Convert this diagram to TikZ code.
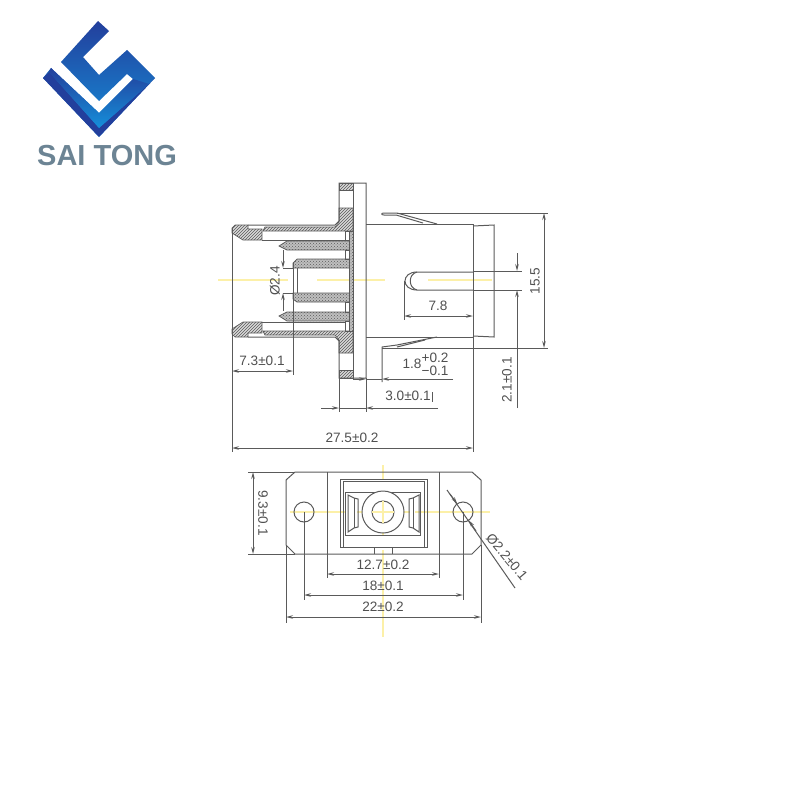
\documentclass[tikz,border=0pt]{standalone}
\usepackage{fontspec}
\setmainfont{Liberation Sans}
\usetikzlibrary{patterns,arrows.meta}
\definecolor{linegray}{HTML}{5A5A5A}
\definecolor{textgray}{HTML}{505050}
\definecolor{axisyellow}{HTML}{FCF0A8}
\definecolor{logodark}{HTML}{233F9C}
\definecolor{logomid}{HTML}{1A6FC4}
\definecolor{logolight}{HTML}{1590DA}
\definecolor{logotext}{HTML}{6C8494}
\tikzset{
  part/.style={draw=linegray,line width=1pt},
  hatched/.style={draw=linegray,line width=0.7pt,preaction={fill=gray!30},pattern=north east lines,pattern color=linegray},
  stippled/.style={draw=linegray,line width=0.7pt,preaction={fill=gray!50},pattern=crosshatch dots,pattern color=linegray},
  dimline/.style={draw=linegray,line width=1pt,-{Stealth[length=7pt,width=3.5pt]}},
  dimboth/.style={draw=linegray,line width=1pt,{Stealth[length=7pt,width=3.5pt]}-{Stealth[length=7pt,width=3.5pt]}},
  axisline/.style={draw=axisyellow,line width=2pt},
  dimtext/.style={text=textgray,font=\fontsize{13.6}{14}\selectfont,inner sep=0pt}
}

\begin{document}
\begin{tikzpicture}[x=1pt,y=-1pt]
  \useasboundingbox (0,0) rectangle (800,800);

  % Mittellinien
  \draw[axisline] (218,280) -- (288,280);
  \draw[axisline] (317,280) -- (385,280);
  \draw[axisline] (428,280) -- (492,280);
  \draw[axisline] (290,512) -- (345,512);
  \draw[axisline] (357,512) -- (410,512);
  \draw[axisline] (415,512) -- (490,512);
  \draw[axisline] (383,465) -- (383,480);
  \draw[axisline] (383,495) -- (383,535);
  \draw[axisline] (383,550) -- (383,637);

  % Logo
  \coordinate (l0) at (98,21);
  \coordinate (l1) at (61,62);
  \coordinate (l2) at (99,101);
  \coordinate (l3) at (127,74);
  \coordinate (l4) at (133,79);
  \coordinate (l5) at (99,113);
  \coordinate (l6) at (51,68);
  \coordinate (l7) at (43,78);
  \coordinate (l8) at (99,137);
  \coordinate (l9) at (155,78);
  \coordinate (l10) at (127,50);
  \coordinate (l11) at (99,75);
  \coordinate (l12) at (83,57);
  \coordinate (l13) at (109,31);
  \shade[top color=logodark,bottom color=logolight]
    (l0) -- (l1) -- (l2) -- (l3) -- (l4) -- (l5) -- (l6) -- (l7) -- (l8) -- (l9) -- (l10) -- (l11) -- (l12) -- (l13) -- cycle;
  \fill[logodark] (l7) -- (l8) -- (l9) -- (149,84) -- (99,128) -- (49,72) -- cycle;
  \shade[top color=logodark,bottom color=logolight]
    (l6) -- (l5) -- (l4) -- (149,84) -- (99,128) -- (49,72) -- cycle;
  \node[text=logotext,font=\fontsize{29}{29}\selectfont\bfseries,inner sep=0pt] (brand) at (107,156) {SAI TONG};

  % Koerper links, obere Haelfte
  \filldraw[hatched] (232,228) -- (235,225) -- (248,225) -- (248,229) -- (262,229) -- (262,240) -- (243,240) -- (232,233) -- cycle;
  \filldraw[hatched] (263,231) -- (265,227) -- (335,227) -- (339,222) -- (339,208) -- (353,208) -- (353,231) -- cycle;
  \filldraw[hatched] (339,183) rectangle (353,190);
  \filldraw[stippled] (279,246) -- (287,241) -- (353,241) -- (353,250) -- (287,250) -- cycle;
  \filldraw[stippled] (293,268) -- (293,263) -- (297,259) -- (353,259) -- (353,268) -- cycle;

  % Koerper links, untere Haelfte
  \filldraw[hatched] (232,334) -- (235,337) -- (248,337) -- (248,333) -- (262,333) -- (262,322) -- (243,322) -- (232,329) -- cycle;
  \filldraw[hatched] (263,331) -- (265,335) -- (335,335) -- (339,340) -- (339,353) -- (353,353) -- (353,331) -- cycle;
  \filldraw[hatched] (339,370) rectangle (353,378);
  \filldraw[stippled] (279,316) -- (287,312) -- (353,312) -- (353,321) -- (287,321) -- cycle;
  \filldraw[stippled] (293,293) -- (353,293) -- (353,302) -- (297,302) -- (293,299) -- cycle;

  % Stege hinter dem Flansch
  \filldraw[stippled] (349,231) rectangle (353,331);
  \draw[part] (345,231) rectangle (349,240);
  \draw[part] (345,250) rectangle (349,259);
  \draw[part] (345,302) rectangle (349,312);
  \draw[part] (345,321) rectangle (349,331);
  \draw[part] (262,240) -- (345,240);
  \draw[part] (262,322) -- (345,322);
  \draw[part] (297,268) -- (297,293);

  % Flansch und Umriss
  \draw[part] (248,225) -- (335,225) -- (339,221) -- (339,183) -- (366,183) -- (366,378) -- (339,378) -- (339,341) -- (335,337) -- (248,337);
  \draw[part] (353,183) -- (353,378);

  % Koerper rechts
  \coordinate (r0) at (366,224);
  \coordinate (r1) at (473,224);
  \coordinate (r2) at (473,337);
  \coordinate (r3) at (366,337);
  \draw[part] (r0) -- (r1) -- (r2) -- (r3);
  \draw[part] (473,226) -- (494,225) -- (494,337) -- (473,336);

  % Federclips
  \draw[part] (437,224) -- (397,213) -- (384,213) .. controls (381,213) and (381,215) .. (384,215) -- (396,215) -- (423,223);
  \draw[part] (437,337) -- (397,345) -- (382,347) -- (382,382);
  \draw[part] (425,340) -- (397,347);

  % Schlitz
  \draw[part] (473,272) -- (417,272) .. controls (401,272) and (401,290) .. (417,290) -- (473,290);
  \draw[part] (417,272) .. controls (408,274) and (408,288) .. (417,290);
  \draw[part] (404,281) -- (404,320);

  % Masslinien Seitenansicht
  \coordinate (e0) at (232,228);
  \coordinate (e1) at (232,452);
  \coordinate (e2) at (473,337);
  \coordinate (e3) at (473,452);
  \draw[part] (e0) -- (e1);
  \draw[part] (e2) -- (e3);
  \draw[part] (293,263) -- (293,375);
  \draw[part] (339,378) -- (339,412);
  \draw[part] (366,378) -- (366,412);
  \draw[part] (397,213) -- (548,213);
  \draw[part] (382,348) -- (548,348);
  \draw[part] (473,271) -- (522,271);
  \draw[part] (473,290) -- (522,290);
  \draw[part] (283,268) -- (293,268);
  \draw[part] (283,293) -- (293,293);

  \draw[dimboth] (232,371) -- (293,371);
  \draw[dimboth] (232,448) -- (473,448);
  \draw[dimboth] (404,316) -- (473,316);
  \draw[dimboth] (544,213) -- (544,348);
  \draw[dimline] (283,250) -- (283,268);
  \draw[dimline] (283,311) -- (283,293);
  \draw[dimline] (517,253) -- (517,271);
  \draw[dimline] (517,408) -- (517,290);
  \draw[dimline] (353,379) -- (366,379);
  \draw[part] (366,379) -- (382,379);
  \draw[dimline] (453,379) -- (382,379);
  \draw[dimline] (321,408) -- (339,408);
  \draw[part] (339,408) -- (366,408);
  \draw[dimline] (438,408) -- (366,408);
  \draw[part] (432,392) -- (432,402);

  \node[dimtext,rotate=90] (d24) at (275,281) {Ø2.4};
  \node[dimtext] (d73) at (262,361) {7.3±0.1};
  \node[dimtext] (d275) at (352,438) {27.5±0.2};
  \node[dimtext] (d78) at (438,306) {7.8};
  \node[dimtext,rotate=90] (d155) at (535,281) {15.5};
  \node[dimtext,rotate=90] (d21) at (507,380) {2.1±0.1};
  \node[dimtext] (d18) at (412,364) {1.8};
  \node[dimtext] (d18a) at (435,358) {+0.2};
  \node[dimtext] (d18b) at (435,371) {−0.1};
  \node[dimtext] (d30) at (408,396) {3.0±0.1};

  % Frontansicht
  \coordinate (p0) at (295,472);
  \coordinate (p1) at (472,472);
  \coordinate (p2) at (481,480);
  \coordinate (p3) at (481,545);
  \coordinate (p4) at (472,554);
  \coordinate (p5) at (295,554);
  \coordinate (p6) at (286,545);
  \coordinate (p7) at (286,480);
  \draw[part] (p0) -- (p1) -- (p2) -- (p3) -- (p4) -- (p5) -- (p6) -- (p7) -- cycle;
  \draw[part] (304,512) circle (10);
  \draw[part] (463,512) circle (10);

  % Kupplung
  \draw[part] (340,479) rectangle (427,547);
  \draw[part] (343,481) -- (343,547);
  \draw[part] (424,481) -- (424,547);
  \draw[part] (343,481) -- (424,481);
  \draw[part] (345,492) rectangle (420,535);
  \draw[part] (348,495) -- (354,498) -- (358,499) -- (358,527) -- (354,528) -- (348,532) -- cycle;
  \draw[part] (419,495) -- (413,498) -- (409,499) -- (409,527) -- (413,528) -- (419,532) -- cycle;
  \draw[part] (354,498) -- (354,528);
  \draw[part] (413,498) -- (413,528);
  \filldraw[part,fill=white] (383,512) circle (21);
  \draw[part] (383,512) circle (11);
  \draw[axisline] (372,512) -- (394,512);
  \draw[axisline] (383,501) -- (383,523);
  \draw[part] (374,547) -- (374,554);
  \draw[part] (392,547) -- (392,554);

  % Masslinien Frontansicht
  \draw[part] (248,472) -- (p0);
  \draw[part] (248,554) -- (p5);
  \draw[part] (327,472) -- (327,578);
  \draw[part] (439,472) -- (439,578);
  \draw[part] (304,512) -- (304,600);
  \draw[part] (463,512) -- (463,600);
  \draw[part] (p6) -- (286,623);
  \draw[part] (p3) -- (481,623);
  \draw[part] (447,490) -- (515,588);

  \draw[dimboth] (253,472) -- (253,554);
  \draw[dimboth] (327,574) -- (439,574);
  \draw[dimboth] (304,595) -- (463,595);
  \draw[dimboth] (286,617) -- (481,617);
  \draw[dimline] (450,494) -- (457.3,503.8);
  \draw[dimline] (476,531) -- (468.7,520.2);

  \node[dimtext,rotate=-50] (d22) at (507,557) {Ø2.2±0.1};
  \node[dimtext,rotate=-90] (d93) at (263,513) {9.3±0.1};
  \node[dimtext] (d127) at (383,565) {12.7±0.2};
  \node[dimtext] (d180) at (383,586) {18±0.1};
  \node[dimtext] (d220) at (383,607) {22±0.2};
\end{tikzpicture}
\end{document}
